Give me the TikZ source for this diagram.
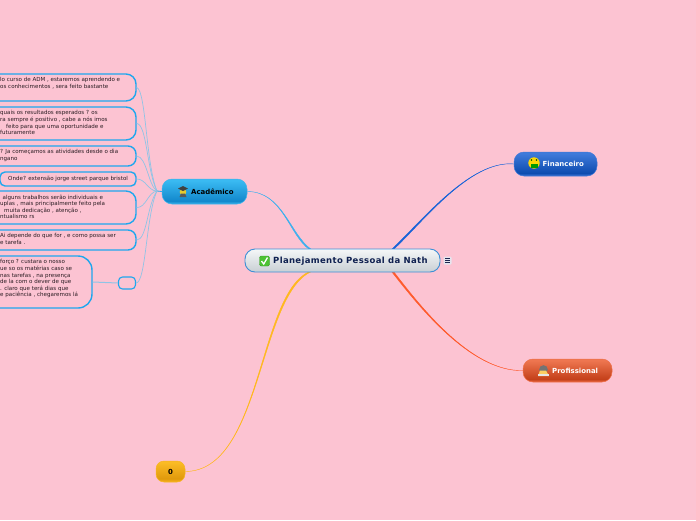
\documentclass[tikz,border=0pt]{standalone}
\usepackage{fontspec}
\setmainfont{DejaVu Sans}
\usetikzlibrary{calc,backgrounds}
\definecolor{bgpink}{HTML}{FCC3D2}
\definecolor{leafline}{HTML}{1EA7EE}
\definecolor{twig}{HTML}{8FC4E6}
\definecolor{cenA}{HTML}{F5F7F8}\definecolor{cenB}{HTML}{C8CFD4}\definecolor{cenL}{HTML}{3C8FD6}
\definecolor{acA}{HTML}{3ABAF2}\definecolor{acB}{HTML}{1288CC}\definecolor{acC}{HTML}{3CB4EC}
\definecolor{finA}{HTML}{3F7ADA}\definecolor{finB}{HTML}{0D4CB0}\definecolor{finC}{HTML}{3F78D8}
\definecolor{prA}{HTML}{EE7650}\definecolor{prB}{HTML}{C4401A}\definecolor{prC}{HTML}{EE6E48}
\definecolor{zeA}{HTML}{FBBB25}\definecolor{zeB}{HTML}{E09A0C}\definecolor{zeC}{HTML}{F8B420}
\definecolor{conA}{HTML}{3DB0EE}\definecolor{conF}{HTML}{1763D8}\definecolor{conP}{HTML}{FF5A2C}\definecolor{conZ}{HTML}{FFB81E}
\definecolor{navy}{HTML}{0F2050}\definecolor{chk}{HTML}{4CC233}\definecolor{chkL}{HTML}{3A9E28}
\definecolor{menuF}{HTML}{E6E4EE}\definecolor{menuL}{HTML}{1E2850}\definecolor{leaftxt}{HTML}{2A1C22}
\pgfdeclareverticalshading{acshade}{100bp}{color(0bp)=(acC); color(25bp)=(acC); color(31bp)=(acB); color(72bp)=(acA); color(100bp)=(acA)}
\pgfdeclareverticalshading{finshade}{100bp}{color(0bp)=(finC); color(25bp)=(finC); color(31bp)=(finB); color(72bp)=(finA); color(100bp)=(finA)}
\pgfdeclareverticalshading{prshade}{100bp}{color(0bp)=(prC); color(25bp)=(prC); color(31bp)=(prB); color(72bp)=(prA); color(100bp)=(prA)}
\pgfdeclareverticalshading{zeshade}{100bp}{color(0bp)=(zeC); color(25bp)=(zeC); color(33bp)=(zeB); color(72bp)=(zeA); color(100bp)=(zeA)}
\tikzset{
  x=1pt,y=-1pt,
  leafbox/.style={draw=leafline,line width=1.4pt,rounded corners=10pt,fill=none,inner sep=0pt},
  leaftext/.style={anchor=north west,inner sep=0pt,align=left,font=\fontsize{5.55}{6.55}\selectfont,text=leaftxt},
  twigline/.style={draw=twig,line width=.7pt},
  branchlabel/.style={inner sep=0pt,font=\fontsize{6.95}{8}\selectfont\bfseries},
  taper/.style={draw=#1,fill=#1,line width=.4pt},
  branchbox/.style 2 args={rounded corners=10pt,draw=#2,line width=.5pt,shading=#1,inner sep=0pt},
  centerbox/.style={rounded corners=10pt,draw=cenL,line width=.9pt,top color=cenA,bottom color=cenB,inner sep=0pt}
}
\begin{document}
\begin{tikzpicture}
\useasboundingbox (0,0) rectangle (696,520);
\begin{scope}
\clip (0,0) rectangle (696,520);

% main nodes
\node[centerbox,minimum width=195pt,minimum height=23pt] (center) at (342.5,260.5) {};
\node[branchbox={acshade}{acC},minimum width=85pt,minimum height=25pt] (acad) at (204.5,191.5) {};
\node[branchbox={finshade}{finC},minimum width=83pt,minimum height=24pt] (fin) at (555.5,164) {};
\node[branchbox={prshade}{prC},minimum width=89pt,minimum height=23pt] (prof) at (567.5,370.5) {};
\node[branchbox={zeshade}{zeC},minimum width=29pt,minimum height=21pt,rounded corners=8pt] (zero) at (170.5,471.5) {};

% tapered main connectors
\coordinate (ca1) at ($(center.north)+(-33,1)$); \coordinate (ca2) at ($(center.north)+(-31,1)$);
\coordinate (cf1) at ($(center.north)+(49,1)$); \coordinate (cf2) at ($(center.north)+(51,1)$);
\coordinate (cp1) at ($(center.south)+(49,-1)$); \coordinate (cp2) at ($(center.south)+(51,-1)$);
\coordinate (cz1) at ($(center.south)+(-33,-1)$); \coordinate (cz2) at ($(center.south)+(-31,-1)$);
\begin{pgfonlayer}{background}
\fill[bgpink] (0,0) rectangle (696,520);
\draw[taper=conA] (acad.east) .. controls (283,191.5) and (289,235.5) .. (ca1) -- (ca2) .. controls (290,234.8) and (283,191.5) .. (acad.east);
\draw[taper=conF] (fin.west) .. controls (470,160) and (421.5,221.5) .. (cf1) -- (cf2) .. controls (422.5,222.5) and (470,160) .. (fin.west);
\draw[taper=conP] (prof.west) .. controls (470,372) and (416.5,303.5) .. (cp1) -- (cp2) .. controls (417.5,302.5) and (470,372) .. (prof.west);
\draw[taper=conZ] (zero.east) .. controls (262,471) and (257.5,294.5) .. (cz1) -- (cz2) .. controls (258.5,295.5) and (262,471) .. (zero.east);
\end{pgfonlayer}

\node[inner sep=0pt,font=\fontsize{8.5}{9}\selectfont\bfseries\addfontfeature{LetterSpace=4},text=navy,anchor=west] (centerlabel) at (273,261) {Planejamento Pessoal da Nath};
% check icon
\node[rounded corners=1.5pt,fill=chk,draw=chkL,line width=.4pt,minimum size=10pt,inner sep=0pt] (checkicon) at (264.5,261) {};
\draw[white,line width=1.3pt] (261.5,261) -- (263.7,264) -- (267.5,257.5);
% menu icon
\node[rounded corners=1pt,fill=menuF,minimum size=8pt,inner sep=0pt] (menuicon) at (447.5,260.5) {};
\draw[menuL,line width=.6pt] (445,258.3) -- (450,258.3) (445,260.5) -- (450,260.5) (445,262.7) -- (450,262.7);

% branch labels
\node[branchlabel,anchor=west] (acadlabel) at (191,191.5) {Acadêmico};
\node[branchlabel,anchor=west,text=white] (finlabel) at (542.5,163.5) {Financeiro};
\node[branchlabel,anchor=west,text=white] (proflabel) at (552,370.5) {Profissional};
\node[branchlabel] (zerolabel) at (170.5,471.5) {0};

% acad icon
\fill[yellow!60!brown] (183,192) circle (3.3);
\fill[black!75] (178,188.5) -- (183,186) -- (188,188.5) -- (183,191) -- cycle;
\fill[black!65] (179.5,197) -- (186.5,197) -- (185,193.5) -- (181,193.5) -- cycle;
% fin icon
\fill[yellow!75!orange] (534,163) circle (5.7);
\fill[green!60!black] (530.5,163.5) rectangle (537.5,167.5);
\fill[green!30!black] (531.5,160) circle (.9) (536.5,160) circle (.9);
% prof icon
\fill[black!55] (543.5,369.5) circle (4.3);
\fill[yellow!40!orange!60!white] (538,376) -- (540,370.5) -- (546,370.5) -- (549,376) -- cycle;
\fill[white!90!black] (538,376) rectangle (549,374);

% leaves
\node[leafbox,minimum width=166pt,minimum height=27pt] (a1) at (53,87.5) {};
\node[leafbox,minimum width=166pt,minimum height=33pt] (a2) at (53,123.5) {};
\node[leafbox,minimum width=166pt,minimum height=20pt,rounded corners=8pt] (a3) at (53,156) {};
\node[leafbox,minimum width=136pt,minimum height=14pt,rounded corners=5pt] (a4) at (68,179) {};
\node[leafbox,minimum width=166pt,minimum height=33pt] (a5) at (53,207.5) {};
\node[leafbox,minimum width=166pt,minimum height=20pt,rounded corners=8pt] (a6) at (53,240) {};
\node[leafbox,minimum width=122pt,minimum height=52pt,rounded corners=14pt] (a7) at (31,282) {};
\node[leafbox,minimum width=17pt,minimum height=12pt,rounded corners=4pt,line width=1.1pt] (a8) at (127,283) {};

\node[leaftext] (t1) at (0,77.5) {lo curso de ADM , estaremos aprendendo e\\os conhecimentos , sera feito bastante};
\node[leaftext] (t2) at (0,110.5) {quais os resultados esperados ? os\\ra sempre é positivo , cabe a nós imos};
\node[leaftext] (t2b) at (6,123.6) {feito para que uma oportunidade e};
\node[leaftext] (t2c) at (0,130.15) {futuramente};
\node[leaftext] (t3) at (0,149.5) {? Ja começamos as atividades desde o dia\\ngano};
\node[leaftext] (t4) at (8,175.5) {Onde? extensão jorge street parque bristol};
\node[leaftext] (t5) at (2.5,194.5) {alguns trabalhos serão individuais e};
\node[leaftext] (t5b) at (0,201.05) {uplas , mais principalmente feito pela};
\node[leaftext] (t5c) at (4,207.6) {muita dedicação , atenção ,};
\node[leaftext] (t5d) at (0,214.15) {ntualismo rs};
\node[leaftext] (t6) at (0,233.5) {Ai depende do que for , e como possa ser\\e tarefa .};
\node[leaftext] (t7) at (0,259.5) {forço ? custara o nosso\\ue so os matérias caso se\\nas tarefas , na presença\\de la com o dever de que\\. claro que terá dias que\\e paciência , chegaremos lá};

% twigs
\coordinate (hub) at (157,191);
\draw[leafline,line width=.8pt] (acad.west) -- (hub);
\draw[twigline] (hub) .. controls (146,165) and (146,90) .. (a1.east);
\draw[twigline] (hub) .. controls (147,172) and (147,124) .. (a2.east);
\draw[twigline] (hub) .. controls (148,185) and (147,157) .. (a3.east);
\draw[twigline] (hub) .. controls (148,191) and (146,179) .. (a4.east);
\draw[twigline] (hub) .. controls (148,192) and (146,208) .. (a5.east);
\draw[twigline] (hub) .. controls (147,205) and (147,240) .. (a6.east);
\draw[twigline] (hub) .. controls (146,215) and (146,283) .. (a8.east);
\draw[twigline,line width=1pt] (a8.west) -- (a7.east);
\end{scope}
\end{tikzpicture}
\end{document}
